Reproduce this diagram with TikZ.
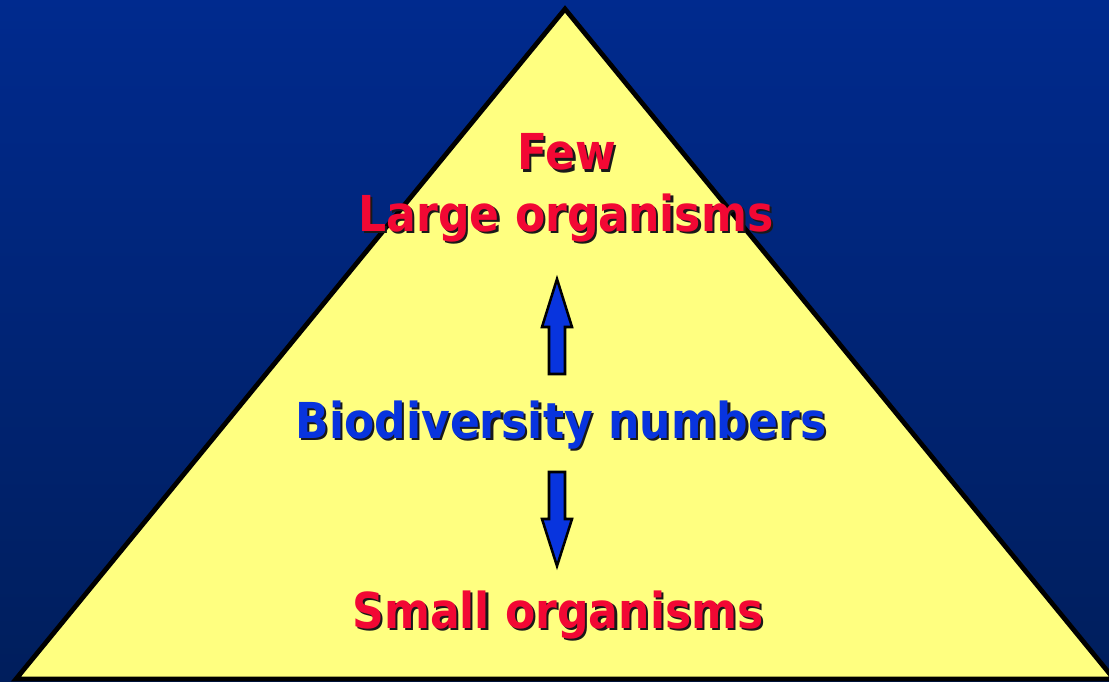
\documentclass[tikz,border=0pt]{standalone}
\usepackage{fontspec}
\setmainfont{DejaVu Sans}
\usepackage{tikz}

\definecolor{skytop}{RGB}{0,42,142}
\definecolor{skybot}{RGB}{0,30,92}
\definecolor{pyrfill}{RGB}{255,255,128}
\definecolor{orgred}{RGB}{242,8,52}
\definecolor{biobl}{RGB}{8,52,222}

% text with a small dark drop shadow
\newcommand{\shadowed}[2]{\scalebox{0.98}[1.1]{%
  \makebox[0pt][l]{\hspace{1.6pt}\raisebox{-1.6pt}{\color{black!90}#2}}{\color{#1}#2}}}

\tikzset{
  pyrtext/.style={anchor=base, inner sep=0pt, font=\bfseries\fontsize{32}{36}\selectfont},
  blockarrow/.style={fill=biobl, draw=black, line width=1.8pt, line join=miter}
}

\begin{document}
\begin{tikzpicture}[x=0.025cm, y=-0.025cm]
    \useasboundingbox (0,0) rectangle (1109,682);
    \shade[top color=skytop, bottom color=skybot] (0,0) rectangle (1109,682);

    % the pyramid
    \draw[fill=pyrfill, line width=3.4pt, line join=miter]
      (565,9) -- (1114,679) -- (16,679) -- cycle;

    \node[pyrtext] (few) at (567,170) {\shadowed{orgred}{Few}};
    \node[pyrtext] (large) at (566,231) {\shadowed{orgred}{Large organisms}};
    \node[pyrtext] (bio) at (561,438) {\shadowed{biobl}{Biodiversity numbers}};
    \node[pyrtext] (small) at (558,628) {\shadowed{orgred}{Small organisms}};

    % up and down block arrows
    \coordinate (uptip) at (557,279);
    \coordinate (dntip) at (557,566);
    \draw[blockarrow] (uptip) -- ++(15,48) -- ++(-7,0) -- ++(0,47)
      -- ++(-16,0) -- ++(0,-47) -- ++(-7,0) -- cycle;
    \draw[blockarrow] (dntip) -- ++(15,-47) -- ++(-7,0) -- ++(0,-47)
      -- ++(-16,0) -- ++(0,47) -- ++(-7,0) -- cycle;
\end{tikzpicture}
\end{document}
